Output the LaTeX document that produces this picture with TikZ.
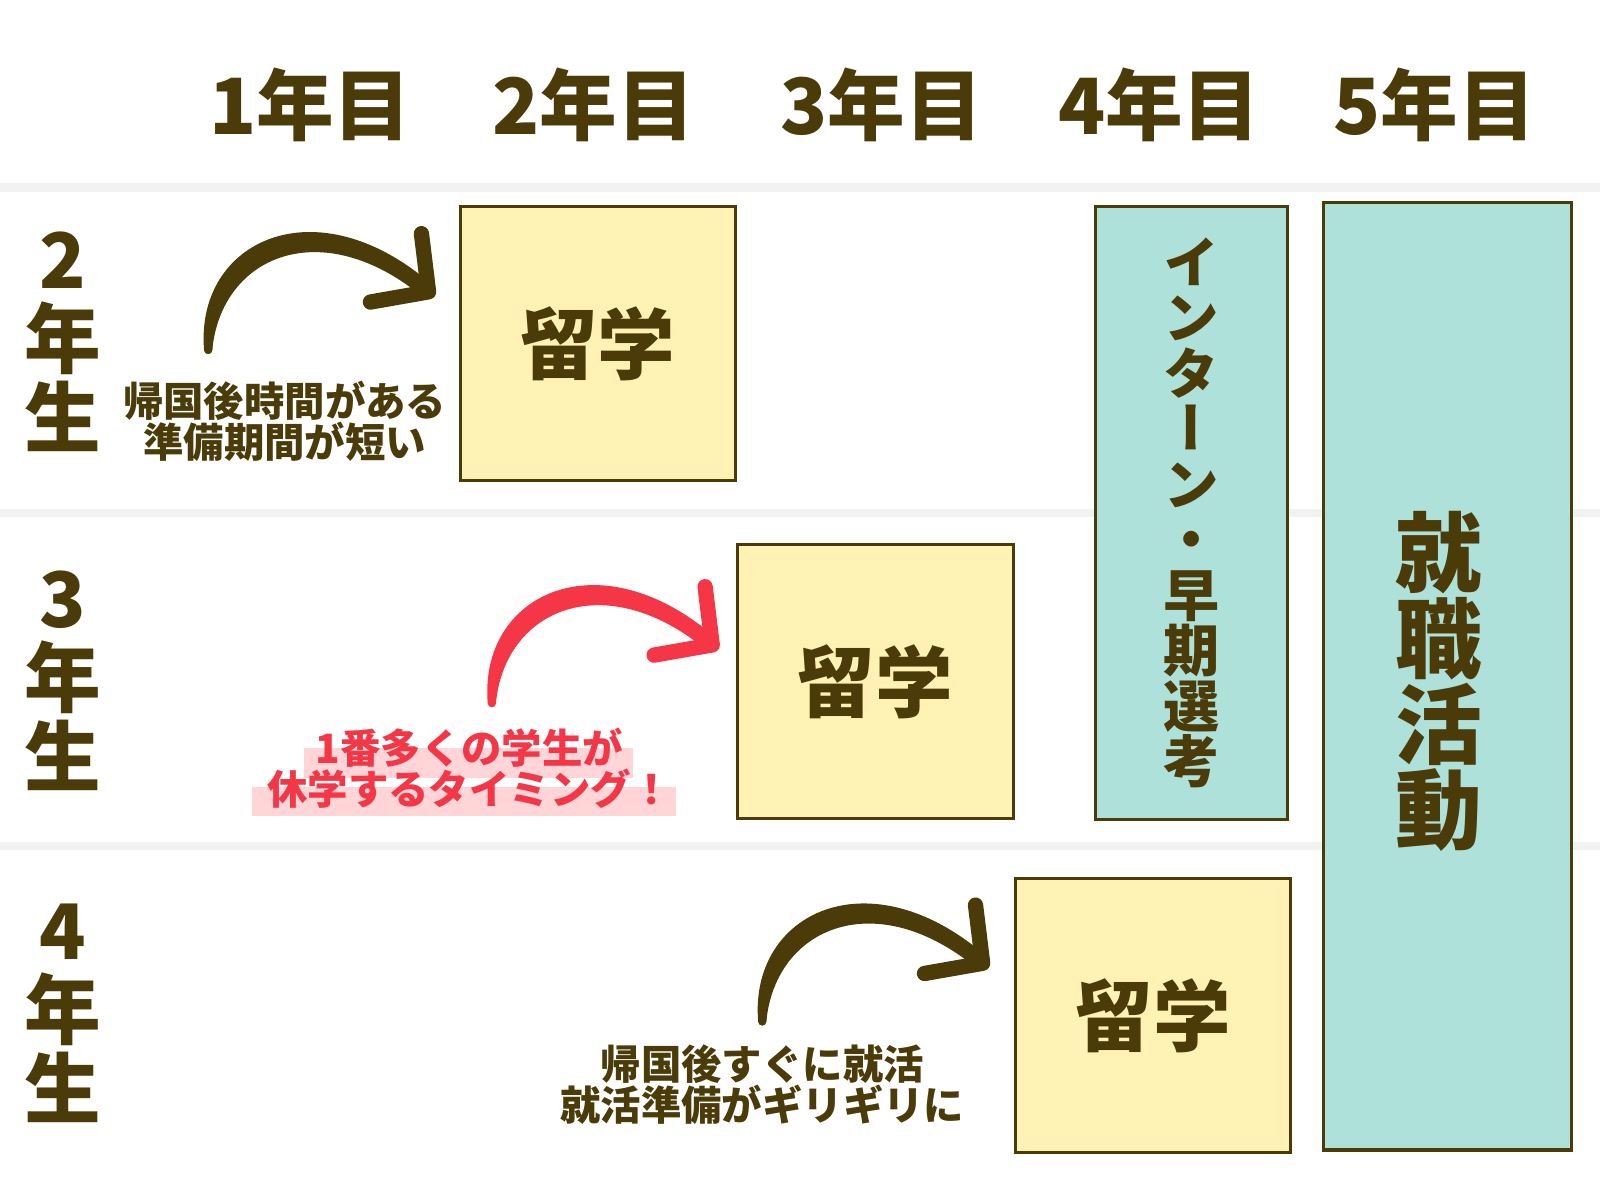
\documentclass[tikz,border=0pt]{standalone}
\usepackage{fontspec}
\setmainfont{Noto Sans CJK JP}
\newfontfamily\jp{Noto Sans CJK JP}
\newfontfamily\jpv{Noto Sans CJK JP}[RawFeature=+vert]
\usetikzlibrary{calc}
\definecolor{brn}{RGB}{74,59,8}
\definecolor{yel}{RGB}{255,242,180}
\definecolor{tealc}{RGB}{174,225,218}
\definecolor{redc}{RGB}{244,54,70}
\definecolor{pinkhl}{RGB}{255,213,216}
\definecolor{sepc}{RGB}{242,242,242}
\begin{document}
\lineskiplimit=-20pt\relax
\begin{tikzpicture}[x=0.5pt,y=-0.5pt,
  yearhead/.style={text=brn, inner sep=0, font=\jp\bfseries\fontsize{38}{38}\selectfont},
  rowlab/.style={text=brn, inner sep=0, align=center, font=\jp\bfseries\fontsize{37.5}{38.75}\selectfont},
  ryu/.style={draw=brn, line width=1.5pt, fill=yel, minimum width=135pt, minimum height=134.5pt, inner sep=0, text=brn, font=\jp\bfseries\fontsize{38}{38}\selectfont},
  tealbox/.style={draw=brn, line width=1.5pt, fill=tealc, inner sep=0},
  vtext/.style={inner sep=0, text=brn, align=center},
  note/.style={inner sep=0, align=center, font=\jp\bfseries\fontsize{19.8}{20}\selectfont},
  bigarrow/.style={line width=4pt, line cap=round, line join=round, draw=#1},
  barb/.style={line width=7.5pt, line cap=round, line join=round, draw=#1},
  sepline/.style={fill=sepc}
]
\useasboundingbox (0,0) rectangle (1568,1176);
\fill[white] (0,0) rectangle (1568,1176);
% separator lines
\fill[sepline] (0,179) rectangle (1568,188);
\fill[sepline] (0,499) rectangle (1568,507);
\fill[sepline] (0,825) rectangle (1568,833);
% header
\node[yearhead] (y1) at (304,103) {1年目};
\node[yearhead] (y2) at (582,103) {2年目};
\node[yearhead] (y3) at (864,103) {3年目};
\node[yearhead] (y4) at (1136,103) {4年目};
\node[yearhead] (y5) at (1406,103) {5年目};
% row labels
\node[rowlab] (r2) at (62,335) {2\\年\\生};
\node[rowlab] (r3) at (62,667) {3\\年\\生};
\node[rowlab] (r4) at (62,993) {4\\年\\生};
% boxes
\node[ryu] (b1) at (586,336.5) {留学};
\node[ryu] (b2) at (858,668) {留学};
\node[ryu] (b3) at (1130,995) {留学};
\node[tealbox, minimum width=94pt, minimum height=300.5pt] (intern) at (1168,502.5) {};
\node[vtext, font=\jpv\bfseries\fontsize{27.5}{27.2}\selectfont] (interntxt) at (intern.center) {イ\\ン\\タ\\ー\\ン\\・\\早\\期\\選\\考};
\node[tealbox, minimum width=121.5pt, minimum height=464.5pt] (shukatsu) at (1418.5,662.5) {};
\node[vtext, font=\jp\bfseries\fontsize{42.5}{42}\selectfont] (shukatsutxt) at (1410,668) {就\\職\\活\\動};
% highlights
\fill[pinkhl] (298,733) rectangle (620,762);
\fill[pinkhl] (247,771) rectangle (662,800);
% notes
\node[note, text=brn] (n1) at (279,413) {帰国後時間がある\\準備期間が短い};
\node[note, text=redc] (n2) at (460,753) {1番多くの学生が\\休学するタイミング！};
\node[note, text=brn] (n3) at (747,1063) {帰国後すぐに就活\\就活準備がギリギリに};
% arrows
\coordinate (t1) at (204,343);
\coordinate (h1) at ($(t1)+(216,-57)$);
\coordinate (t2) at (482,689);
\coordinate (h2) at ($(t2)+(216,-57)$);
\coordinate (t3) at (747,1001);
\coordinate (h3) at ($(t3)+(216,-57)$);
\foreach \t/\h/\c in {t1/h1/brn, t2/h2/redc, t3/h3/brn}{
  \draw[bigarrow=\c] (\t) .. controls +(0,-100) and +(-107,-92) .. (\h);
  \fill[\c, shift={(\t)}] (-4,0) .. controls (-13,-107) and (106,-164) .. (220.9,-62.7)
     -- (211.1,-51.3) .. controls (112,-134) and (13,-93) .. (4,0)
     arc[start angle=0, end angle=180, radius=4] -- cycle;
  \draw[barb=\c] ($(\h)+(-7,-57)$) -- (\h) -- ($(\h)+(-57,10)$);
}
\end{tikzpicture}
\end{document}
